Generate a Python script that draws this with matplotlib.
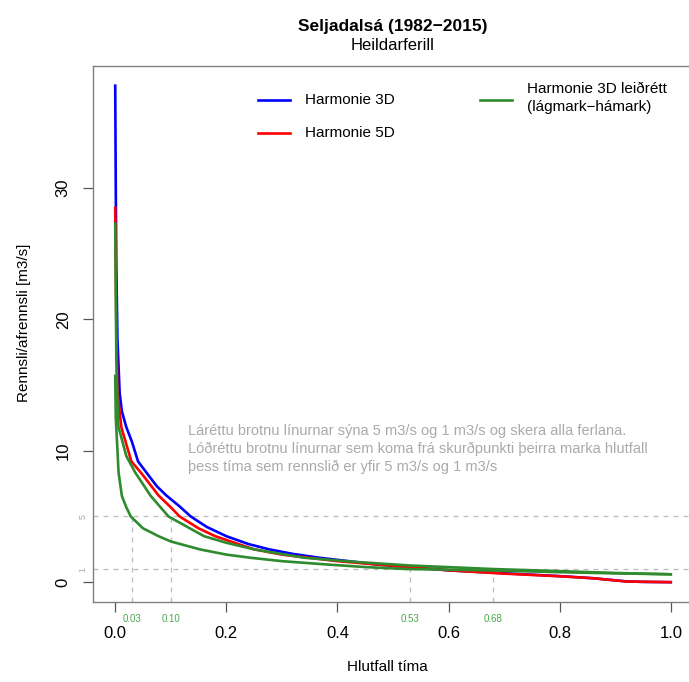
import numpy as np
import matplotlib.pyplot as plt

plt.rcParams["font.family"] = ["Liberation Sans", "DejaVu Sans"]

# Flow duration curves (fraction of time, flow m3/s)

x_h3 = [0.0, 0.001, 0.002, 0.004, 0.008, 0.012, 0.02, 0.03, 0.041, 0.057, 0.075,
        0.092, 0.115, 0.136, 0.165, 0.2, 0.24, 0.277, 0.32, 0.367, 0.42, 0.47,
        0.53, 0.6, 0.7, 0.8, 0.86, 0.92, 0.95, 1.0]
y_h3 = [37.8, 30.0, 24.0, 18.5, 14.4, 13.0, 11.8, 10.7, 9.2, 8.3, 7.3,
        6.6, 5.8, 5.0, 4.2, 3.5, 2.9, 2.5, 2.15, 1.86, 1.6, 1.35,
        1.15, 0.9, 0.68, 0.46, 0.3, 0.06, 0.02, 0.0]

x_h5 = [0.0, 0.001, 0.002, 0.004, 0.011, 0.02, 0.029, 0.047, 0.078, 0.1, 0.116,
        0.15, 0.18, 0.25, 0.3, 0.4, 0.47, 0.53, 0.6, 0.7, 0.8, 0.86, 0.92, 1.0]
y_h5 = [28.5, 24.0, 19.5, 14.5, 11.8, 10.5, 9.2, 8.3, 6.6, 5.7, 5.0,
        4.1, 3.5, 2.5, 2.1, 1.6, 1.35, 1.15, 0.9, 0.65, 0.45, 0.3, 0.05, 0.0]

x_hi = [0.0, 0.001, 0.002, 0.004, 0.006, 0.02, 0.036, 0.064, 0.096, 0.13, 0.16,
        0.2, 0.25, 0.34, 0.43, 0.53, 0.68, 0.8, 0.9, 1.0]
y_hi = [27.3, 22.0, 17.0, 13.5, 11.8, 9.6, 8.35, 6.56, 5.0, 4.2, 3.5,
        3.0, 2.5, 1.86, 1.55, 1.27, 1.0, 0.84, 0.7, 0.6]

x_lo = [0.0, 0.001, 0.003, 0.006, 0.012, 0.02, 0.028, 0.05, 0.078, 0.1, 0.153,
        0.2, 0.243, 0.3, 0.38, 0.45, 0.525, 0.6, 0.68, 0.8, 0.9, 1.0]
y_lo = [15.7, 12.5, 10.9, 8.35, 6.56, 5.7, 5.0, 4.1, 3.5, 3.1, 2.49,
        2.1, 1.86, 1.6, 1.35, 1.15, 1.0, 0.95, 0.89, 0.76, 0.67, 0.6]

# thresholds and the time fractions where the curves cross them
thresholds = [5, 1]
cross_x = [0.03, 0.10, 0.53, 0.68]
cross_y = [5, 5, 1, 1]
cross_labels = ["0.03", "0.10", "0.53", "0.68"]

x_ticks = [0.0, 0.2, 0.4, 0.6, 0.8, 1.0]
y_ticks = [0, 10, 20, 30]

blue = "#0000FF"
red = "#FF0000"
green = "#2E8B2E"
green_txt = "#4CA64C"
grey = "#BBBBBB"

fig = plt.figure(figsize=(6.89, 6.82), dpi=100)
ax = fig.add_axes([93 / 689, 80 / 682, 600 / 689, 536 / 682])

ax.plot(x_h3, y_h3, color=blue, lw=1.9, zorder=3)
ax.plot(x_h5, y_h5, color=red, lw=1.9, zorder=4)
ax.plot(x_hi, y_hi, color=green, lw=1.9, zorder=5)
ax.plot(x_lo, y_lo, color=green, lw=1.9, zorder=5)

ymin, ymax = -1.51, 39.3
ax.set_xlim(-0.04, 1.04)
ax.set_ylim(ymin, ymax)

# dashed guide lines
for t in thresholds:
    ax.axhline(t, color=grey, lw=0.9, ls=(0, (4, 4)), zorder=2)
for cx, cy in zip(cross_x, cross_y):
    ax.plot([cx, cx], [ymin, cy], color=grey, lw=0.9, ls=(0, (4, 4)), zorder=2)

btrans = ax.get_xaxis_transform()
for cx, lab in zip(cross_x, cross_labels):
    ax.text(cx, -0.032, lab, transform=btrans, ha="center", va="center",
            fontsize=7, color=green_txt, clip_on=False)

ltrans = ax.get_yaxis_transform()
for t in thresholds:
    ax.text(-0.017, t, str(t), transform=ltrans, ha="center", va="center",
            fontsize=6.5, color="#AAAAAA", rotation=90, clip_on=False)

ax.set_xticks(x_ticks)
ax.set_xticklabels([f"{v:.1f}" for v in x_ticks])
ax.set_yticks(y_ticks)
ax.set_yticklabels([str(v) for v in y_ticks], rotation=90, va="center")
ax.tick_params(axis="x", length=7, width=0.9, color="#555555", labelsize=12, pad=10)
ax.tick_params(axis="y", length=7, width=0.9, color="#555555", labelsize=12, pad=9)

for s in ax.spines.values():
    s.set_color("#808080")
    s.set_linewidth(1.0)

ax.set_xlabel("Hlutfall tíma", fontsize=11)
ax.xaxis.set_label_coords(0.49, -0.108)
ax.set_ylabel("Rennsli/afrennsli [m3/s]", fontsize=11)
ax.yaxis.set_label_coords(-0.104, 0.52)

fig.text(393 / 689, 1 - 26 / 682, "Seljadalsá (1982\u22122015)", ha="center",
         va="center", fontsize=12.5, fontweight="bold")
fig.text(393 / 689, 1 - 45 / 682, "Heildarferill", ha="center", va="center",
         fontsize=12)

# legend, drawn by hand without a box
at = ax.transAxes
ax.plot([0.275, 0.328], [0.937, 0.937], color=blue, lw=1.9, transform=at)
ax.text(0.353, 0.937, "Harmonie 3D", transform=at, va="center", fontsize=11)
ax.plot([0.275, 0.328], [0.875, 0.875], color=red, lw=1.9, transform=at)
ax.text(0.353, 0.875, "Harmonie 5D", transform=at, va="center", fontsize=11)
ax.plot([0.645, 0.698], [0.937, 0.937], color=green, lw=1.9, transform=at)
ax.text(0.723, 0.94, "Harmonie 3D leiðrétt\n(lágmark\u2212hámark)", transform=at,
        va="center", fontsize=11, linespacing=1.4)

ax.text(0.158, 0.333,
        "Láréttu brotnu línurnar sýna 5 m3/s og 1 m3/s og skera alla ferlana.\n"
        "Lóðréttu brotnu línurnar sem koma frá skurðpunkti þeirra marka hlutfall\n"
        "þess tíma sem rennslið er yfir 5 m3/s og 1 m3/s",
        transform=at, ha="left", va="top", fontsize=10.5, color="#AAAAAA",
        linespacing=1.38)

fig.savefig("out.png", dpi=100)
